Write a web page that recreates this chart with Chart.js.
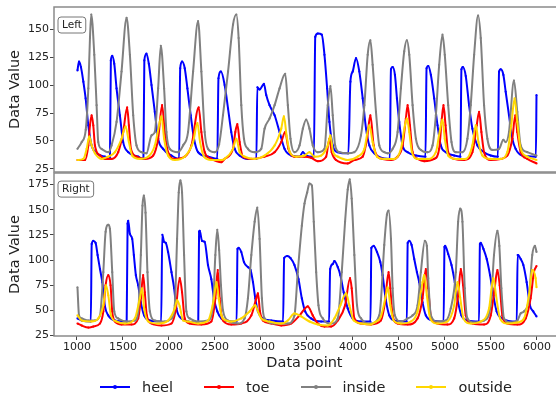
<!DOCTYPE html>
<html>
<head>
<meta charset="utf-8">
<script src="https://cdn.jsdelivr.net/npm/chart.js@4.4.1/dist/chart.umd.min.js"></script>
<style>
  html, body { margin: 0; background: #fff; overflow: hidden; width: 556px; height: 398px; }
  .panel { position: absolute; left: 0; width: 556px; }
  #top { top: 0; height: 180px; }
  #bot { top: 172px; height: 212px; }
  #legend { position: absolute; left: 100px; top: 379px; display: flex; align-items: center;
            font: 14.5px "DejaVu Sans", sans-serif; color: #222; }
  .item { display: flex; align-items: center; margin-right: 31px; }
  .line { width: 30px; height: 2px; margin-right: 12px; position: relative; }
  .line i { position: absolute; left: 13px; top: -1px; width: 4px; height: 4px; border-radius: 2px; }
</style>
</head>
<body>
<div class="panel" id="top"><canvas id="leftChart"></canvas></div>
<div class="panel" id="bot"><canvas id="rightChart"></canvas></div>
<div id="legend"></div>
<script>
// two stacked panels (Left / Right foot), four pressure sensors each

const names = ["heel", "toe", "inside", "outside"];
const colors = ["#0000ff", "#ff0000", "#808080", "#ffd700"];
const xTicks = [1000, 1500, 2000, 2500, 3000, 3500, 4000, 4500, 5000, 5500, 6000];
const yTicksL = [25, 50, 75, 100, 125, 150];
const yTicksR = [25, 50, 75, 100, 125, 150, 175];

// ── Left ──
const heelL = [[1005,113],[1022,121],[1043,116],[1069,103],[1094,88],[1123,64],[1159,46],[1213,39],[1304,36],[1358,34],[1368,122],[1383,126],[1405,119],[1430,97],[1466,73],[1502,49],[1557,40],[1665,36],[1722,34],[1732,122],[1755,128],[1781,119],[1810,100],[1846,76],[1882,52],[1936,43],[2027,37],[2110,34],[2122,115],[2142,121],[2171,115],[2200,97],[2236,73],[2272,52],[2316,40],[2424,36],[2525,34],[2538,106],[2565,112],[2605,100],[2642,79],[2677,58],[2714,43],[2768,37],[2858,34],[2950,34],[2960,98],[2985,96],[3032,101],[3057,91],[3093,82],[3148,73],[3202,58],[3256,43],[3329,37],[3419,36],[3455,40],[3491,37],[3575,36],[3590,143],[3618,146],[3661,145],[3690,127],[3719,97],[3744,67],[3780,46],[3835,40],[3950,39],[3972,103],[3997,112],[4033,124],[4069,112],[4106,88],[4142,61],[4178,46],[4232,39],[4304,35],[4400,34],[4413,114],[4431,116],[4456,109],[4478,88],[4503,67],[4539,46],[4594,40],[4684,37],[4788,36],[4800,115],[4818,117],[4847,109],[4883,88],[4919,64],[4955,46],[5009,40],[5100,37],[5168,36],[5179,114],[5194,116],[5226,108],[5262,82],[5298,61],[5353,46],[5425,40],[5497,37],[5575,36],[5588,112],[5606,114],[5635,109],[5660,94],[5696,73],[5732,52],[5768,43],[5841,37],[5988,36],[5995,91]];
const toeL = [[1005,33],[1087,33],[1123,46],[1141,64],[1159,73],[1177,64],[1195,46],[1250,37],[1304,34],[1376,34],[1448,40],[1502,58],[1545,80],[1564,64],[1586,43],[1647,36],[1737,34],[1828,37],[1882,52],[1925,82],[1954,58],[1990,40],[2063,34],[2171,36],[2244,46],[2323,80],[2352,58],[2388,40],[2460,34],[2569,31],[2605,34],[2696,43],[2721,58],[2743,65],[2768,49],[2804,36],[2895,34],[3039,36],[3148,40],[3220,49],[3263,58],[3299,43],[3364,36],[3473,36],[3545,35],[3618,32],[3708,36],[3744,52],[3769,40],[3816,33],[3943,30],[4015,33],[4106,36],[4153,52],[4189,73],[4225,46],[4268,36],[4322,34],[4413,33],[4485,36],[4539,46],[4575,70],[4594,82],[4619,64],[4648,40],[4702,34],[4774,32],[4883,34],[4937,43],[4966,70],[4984,82],[5006,64],[5035,40],[5100,34],[5208,33],[5298,40],[5345,64],[5371,76],[5396,58],[5425,40],[5497,33],[5606,34],[5678,37],[5732,52],[5765,73],[5786,58],[5823,40],[5895,34],[5995,30]];
const insideL = [[1005,43],[1051,49],[1095,60],[1123,97],[1141,142],[1155,163],[1188,127],[1213,82],[1231,49],[1267,43],[1340,40],[1376,46],[1430,67],[1484,112],[1539,160],[1575,127],[1611,73],[1647,46],[1701,40],[1755,39],[1810,55],[1846,58],[1882,97],[1911,135],[1947,97],[1972,58],[2008,43],[2099,40],[2153,46],[2207,58],[2262,112],[2316,157],[2352,112],[2388,58],[2424,43],[2497,40],[2545,47],[2587,73],[2642,112],[2696,154],[2732,163],[2757,142],[2786,82],[2815,52],[2858,43],[2931,40],[3003,43],[3039,61],[3093,70],[3148,82],[3202,97],[3263,110],[3292,82],[3321,52],[3364,40],[3419,46],[3455,61],[3491,69],[3527,61],[3563,46],[3618,40],[3690,43],[3726,82],[3755,99],[3780,73],[3806,46],[3853,40],[3943,39],[4015,40],[4087,55],[4124,82],[4160,127],[4189,140],[4214,118],[4250,76],[4286,46],[4341,40],[4377,39],[4431,43],[4485,58],[4521,97],[4557,130],[4586,140],[4612,127],[4648,82],[4684,52],[4738,42],[4810,40],[4865,46],[4901,73],[4937,118],[4973,145],[4998,127],[5035,82],[5071,49],[5118,40],[5190,40],[5244,52],[5280,82],[5317,127],[5360,162],[5389,142],[5425,82],[5461,52],[5515,42],[5588,43],[5635,51],[5660,49],[5696,58],[5750,104],[5786,76],[5823,46],[5895,40],[5995,37]];
const outsideL = [[1005,33],[1069,34],[1105,43],[1134,54],[1159,46],[1195,39],[1267,34],[1340,36],[1412,40],[1484,52],[1528,63],[1564,49],[1600,37],[1683,34],[1774,36],[1846,46],[1900,67],[1918,72],[1947,52],[1990,37],[2063,33],[2171,36],[2262,49],[2309,66],[2338,49],[2381,36],[2460,33],[2569,33],[2605,34],[2696,43],[2732,52],[2768,40],[2822,36],[2931,34],[3039,37],[3148,46],[3220,61],[3249,72],[3278,55],[3314,40],[3383,36],[3473,37],[3527,40],[3581,36],[3654,37],[3726,46],[3755,55],[3784,40],[3835,36],[3943,33],[4051,36],[4124,43],[4178,64],[4214,49],[4261,36],[4340,34],[4449,34],[4521,43],[4565,64],[4586,70],[4612,58],[4641,40],[4702,34],[4810,34],[4901,40],[4948,61],[4973,69],[4998,52],[5035,37],[5118,34],[5226,34],[5298,46],[5335,64],[5364,49],[5407,37],[5497,34],[5606,34],[5678,40],[5721,64],[5757,88],[5786,67],[5823,43],[5895,36],[5995,33]];

// ── Right ──
const heelR = [[1005,42],[1051,40],[1150,39],[1160,116],[1177,119],[1202,117],[1224,105],[1250,91],[1275,78],[1304,54],[1340,45],[1412,40],[1540,39],[1550,136],[1557,139],[1575,126],[1600,121],[1618,105],[1640,85],[1665,75],[1694,58],[1730,45],[1792,40],[1915,39],[1927,125],[1947,118],[1965,117],[1990,108],[2027,88],[2056,72],[2081,52],[2135,42],[2207,39],[2318,38],[2327,128],[2334,129],[2359,119],[2388,118],[2424,95],[2460,81],[2489,62],[2525,49],[2569,42],[2605,40],[2735,39],[2745,111],[2757,112],[2786,108],[2815,98],[2858,93],[2887,90],[2913,78],[2938,62],[2967,49],[3021,42],[3112,40],[3240,39],[3252,102],[3285,104],[3321,102],[3364,95],[3408,81],[3444,62],[3480,49],[3545,42],[3654,39],[3740,39],[3752,91],[3780,96],[3798,99],[3835,93],[3863,85],[3899,68],[3943,52],[3997,42],[4088,39],[4190,39],[4200,112],[4225,114],[4261,108],[4297,98],[4322,85],[4358,60],[4395,45],[4449,40],[4585,39],[4595,117],[4612,119],[4637,115],[4666,101],[4695,88],[4720,78],[4756,58],[4792,45],[4865,40],[4985,39],[4995,113],[5002,114],[5035,106],[5071,95],[5107,78],[5143,58],[5179,45],[5244,40],[5370,39],[5380,116],[5389,117],[5418,111],[5454,101],[5490,85],[5526,65],[5562,49],[5624,42],[5780,39],[5790,105],[5794,105],[5823,101],[5852,95],[5888,78],[5924,55],[5960,49],[5995,44]];
const toeR = [[1005,37],[1051,35],[1123,33],[1177,34],[1250,37],[1286,49],[1311,75],[1340,85],[1365,75],[1383,49],[1412,39],[1484,36],[1593,36],[1665,42],[1694,62],[1719,85],[1737,68],[1759,45],[1810,37],[1918,35],[2027,37],[2070,49],[2117,82],[2142,68],[2171,42],[2225,37],[2352,36],[2460,39],[2504,62],[2530,90],[2551,62],[2570,45],[2587,40],[2677,36],[2786,37],[2895,45],[2949,62],[2967,67],[2989,49],[3021,40],[3112,37],[3220,35],[3329,37],[3419,45],[3509,54],[3563,45],[3618,37],[3690,34],[3762,34],[3835,40],[3914,55],[3968,82],[3986,72],[4015,42],[4088,37],[4196,36],[4304,40],[4348,58],[4387,88],[4406,72],[4431,45],[4485,37],[4594,36],[4702,42],[4756,62],[4792,91],[4818,72],[4847,44],[4919,37],[5027,36],[5100,42],[5143,65],[5172,91],[5197,75],[5226,45],[5298,37],[5425,36],[5497,45],[5540,72],[5570,90],[5595,75],[5624,45],[5678,37],[5787,36],[5877,42],[5931,62],[5967,88],[5995,94]];
const insideR = [[1005,73],[1022,45],[1051,42],[1123,40],[1195,40],[1250,45],[1286,88],[1311,128],[1340,135],[1358,131],[1383,88],[1405,49],[1448,42],[1539,39],[1629,40],[1665,49],[1694,105],[1712,154],[1727,164],[1745,147],[1766,88],[1792,49],[1846,40],[1954,39],[2027,42],[2063,55],[2088,121],[2106,167],[2124,179],[2142,167],[2164,105],[2189,49],[2225,42],[2316,39],[2424,40],[2478,55],[2504,105],[2525,130],[2545,110],[2565,75],[2587,50],[2642,40],[2750,37],[2822,42],[2858,62],[2895,105],[2931,138],[2960,152],[2985,121],[3010,62],[3039,42],[3148,37],[3292,37],[3364,45],[3400,88],[3444,134],[3473,156],[3502,167],[3527,176],[3553,174],[3574,138],[3600,88],[3625,55],[3672,42],[3762,37],[3835,42],[3878,88],[3914,138],[3943,170],[3965,180],[3986,161],[4015,105],[4044,55],[4088,42],[4196,37],[4286,45],[4304,60],[4340,115],[4369,145],[4387,149],[4413,121],[4431,72],[4456,45],[4521,39],[4594,42],[4648,45],[4702,55],[4738,88],[4781,119],[4803,114],[4818,82],[4847,45],[4919,39],[5009,40],[5063,52],[5118,88],[5143,138],[5165,151],[5190,138],[5215,72],[5244,42],[5317,38],[5425,40],[5497,55],[5533,105],[5570,129],[5591,114],[5613,72],[5642,42],[5714,38],[5787,40],[5823,47],[5859,49],[5913,62],[5949,105],[5978,114],[5995,108]];
const outsideR = [[1005,45],[1051,40],[1159,39],[1231,42],[1286,55],[1315,75],[1340,65],[1369,45],[1430,39],[1521,37],[1629,42],[1683,62],[1708,72],[1730,52],[1774,39],[1882,37],[1990,40],[2063,52],[2088,60],[2117,54],[2153,40],[2207,39],[2316,37],[2424,40],[2489,62],[2515,78],[2540,62],[2570,45],[2587,42],[2677,39],[2786,42],[2877,49],[2938,55],[2967,49],[3003,42],[3093,39],[3220,37],[3292,40],[3364,47],[3437,44],[3527,39],[3618,36],[3726,35],[3798,42],[3863,55],[3925,67],[3961,55],[4008,40],[4088,37],[4196,36],[4232,38],[4304,44],[4358,65],[4377,73],[4406,55],[4442,40],[4521,37],[4630,39],[4702,49],[4756,78],[4774,85],[4803,65],[4839,42],[4919,37],[5027,39],[5100,55],[5136,78],[5165,63],[5201,42],[5280,37],[5389,39],[5479,52],[5526,82],[5555,65],[5599,42],[5678,37],[5787,38],[5859,42],[5913,65],[5949,90],[5985,82],[5995,73]];

const FONT = "'DejaVu Sans', sans-serif";
Chart.defaults.font.family = FONT;
Chart.defaults.color = "#222";

// frame round the plot (right side falls off the picture) + the "Left"/"Right" tag
const frame = {
  id: "frame",
  afterDraw(chart, args, opts) {
    const { ctx, chartArea: a } = chart;
    ctx.save();
    ctx.strokeStyle = "#8a8a8a"; ctx.lineWidth = 1.5;
    ctx.beginPath();
    ctx.moveTo(a.right + 2, a.top); ctx.lineTo(a.left, a.top);
    ctx.lineTo(a.left, a.bottom); ctx.lineTo(a.right + 2, a.bottom);
    ctx.stroke();
    ctx.font = "10.5px " + FONT;
    const w = ctx.measureText(opts.label).width + 8;
    const x = a.left + 4, y = a.top + opts.dy;
    ctx.fillStyle = "#fff"; ctx.strokeStyle = "#777"; ctx.lineWidth = 1;
    ctx.beginPath(); ctx.roundRect(x, y, w, 16, 3); ctx.fill(); ctx.stroke();
    ctx.fillStyle = "#222"; ctx.textBaseline = "middle";
    ctx.fillText(opts.label, x + 4, y + 8.5);
    ctx.restore();
  },
};

function panel(id, series, yMin, yMax, yTicks, label, dy, showX, pad) {
  return new Chart(document.getElementById(id), {
    type: "line",
    data: {
      datasets: series.map((pts, i) => ({
        label: names[i], data: pts.map(([x, y]) => ({ x, y })),
        borderColor: colors[i], backgroundColor: colors[i], borderWidth: 2,
        pointRadius: 1.1, pointHoverRadius: 1, pointBorderWidth: 0,
        cubicInterpolationMode: "monotone", order: 4 - i,
      })),
    },
    options: {
      responsive: true, maintainAspectRatio: false, animation: false, events: [],
      layout: { padding: pad },
      plugins: { legend: { display: false }, tooltip: { enabled: false }, frame: { label, dy } },
      scales: {
        x: {
          type: "linear", min: 750, max: 6195, display: showX,
          afterBuildTicks: (s) => { s.ticks = xTicks.map((v) => ({ value: v })); },
          afterFit: (s) => { if (showX) s.height = 39; s.paddingLeft = 0; s.paddingRight = 0; },
          grid: { drawOnChartArea: false, tickLength: 4, color: "#444" },
          border: { display: false },
          ticks: { font: { size: 11 }, padding: 1, maxRotation: 0, autoSkip: false, callback: (v) => String(v) },
          title: { display: true, text: "Data point", font: { size: 14.5 }, padding: { top: 0, bottom: 3 } },
        },
        y: {
          min: yMin, max: yMax,
          afterBuildTicks: (s) => { s.ticks = yTicks.map((v) => ({ value: v })); },
          afterFit: (s) => { s.width = 54; s.paddingTop = 0; s.paddingBottom = 0; },
          grid: { drawOnChartArea: false, tickLength: 4, color: "#444" },
          border: { display: false },
          ticks: { font: { size: 11 }, padding: 1, autoSkip: false },
          title: { display: true, text: "Data Value", font: { size: 14.5 }, padding: { top: 7, bottom: 0 } },
        },
      },
    },
    plugins: [frame],
  });
}

panel("leftChart", [heelL, toeL, insideL, outsideL], 22.3, 169.7, yTicksL, "Left", 10, false,
  { top: 7, right: 0, bottom: 8, left: 0 });
panel("rightChart", [heelR, toeR, insideR, outsideR], 24.6, 186.3, yTicksR, "Right", 8, true,
  { top: 1, right: 0, bottom: 9, left: 0 });

// legend under the lower panel
const legend = document.getElementById("legend");
names.forEach((n, i) => {
  const item = document.createElement("div");
  item.className = "item";
  item.innerHTML = `<span class="line" style="background:${colors[i]}"><i style="background:${colors[i]}"></i></span><span>${n}</span>`;
  legend.appendChild(item);
});
</script>
</body>
</html>
